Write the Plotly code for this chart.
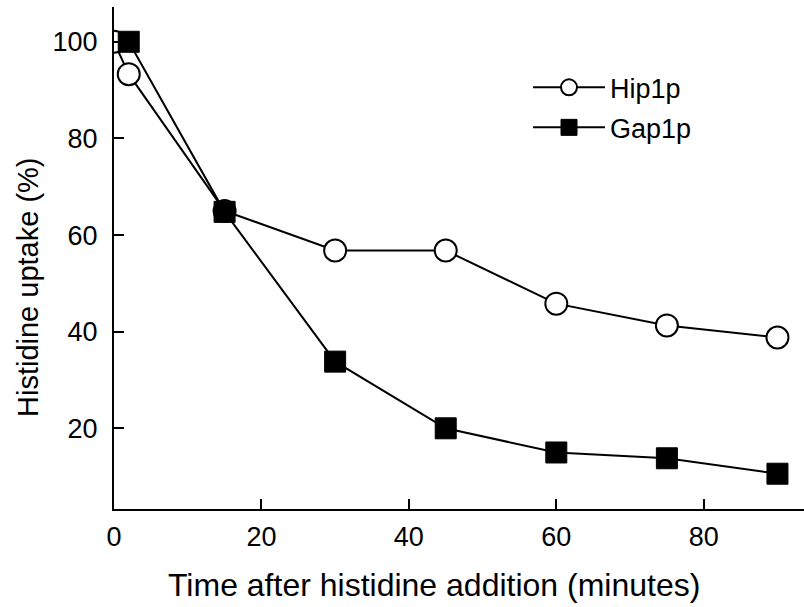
import plotly.graph_objects as go

hip_x = [0, 2, 15, 30, 45, 60, 75, 90]
hip_y = [100, 93.3, 65, 56.8, 56.8, 45.8, 41.3, 38.8]
gap_x = [2, 15, 30, 45, 60, 75, 90]
gap_y = [100, 64.8, 33.8, 20, 15, 13.8, 10.6]

x_ticks = [0, 20, 40, 60, 80]
y_ticks = [20, 40, 60, 80, 100]

FONT = "Liberation Sans, Arial, Helvetica, sans-serif"
W, H = 804, 607
ML, MR, MT, MB = 114, 0, 7, 98

fig = go.Figure()
fig.add_trace(go.Scatter(
    x=hip_x, y=hip_y, name="Hip1p", mode="lines+markers", legendgroup="a",
    line=dict(color="black", width=2),
    marker=dict(symbol="circle", size=22, color="white",
                line=dict(color="black", width=2)),
    cliponaxis=True,
))
fig.add_trace(go.Scatter(
    x=gap_x, y=gap_y, name="Gap1p", mode="lines+markers", legendgroup="b",
    line=dict(color="black", width=2),
    marker=dict(symbol="square", size=21, color="black",
                line=dict(color="black", width=1)),
    cliponaxis=True,
))

axis_common = dict(
    showgrid=False, zeroline=False, showline=True, linecolor="black",
    linewidth=2, ticks="inside", ticklen=10, tickwidth=2, tickcolor="black",
    tickfont=dict(family=FONT, size=27, color="black"),
)

fig.update_layout(
    width=W, height=H,
    margin=dict(l=ML, r=MR, t=MT, b=MB, pad=0),
    paper_bgcolor="white", plot_bgcolor="white",
    showlegend=True,
    legend=dict(x=0.6, y=0.888, xanchor="left", yanchor="top",
                font=dict(family=FONT, size=27, color="black"),
                bgcolor="rgba(0,0,0,0)", itemwidth=72, tracegroupgap=2),
    xaxis=dict(range=[0, 93.6], tickvals=x_ticks, ticklabelstandoff=3,
               **axis_common),
    yaxis=dict(range=[3.3, 107.2], tickvals=y_ticks, ticklabelstandoff=9,
               **axis_common),
    annotations=[
        dict(text="Time after histidine addition (minutes)", xref="paper",
             yref="paper", x=(434 - ML) / (W - ML - MR),
             y=-(585 - (H - MB)) / (H - MT - MB),
             xanchor="center", yanchor="middle", showarrow=False,
             font=dict(family=FONT, size=32, color="black")),
        dict(text="Histidine uptake (%)", xref="paper", yref="paper",
             x=-(ML - 28) / (W - ML - MR),
             y=((H - MB) - 287) / (H - MT - MB),
             xanchor="center", yanchor="middle", showarrow=False,
             textangle=-90,
             font=dict(family=FONT, size=29, color="black")),
    ],
)

fig.write_html("out.html")
